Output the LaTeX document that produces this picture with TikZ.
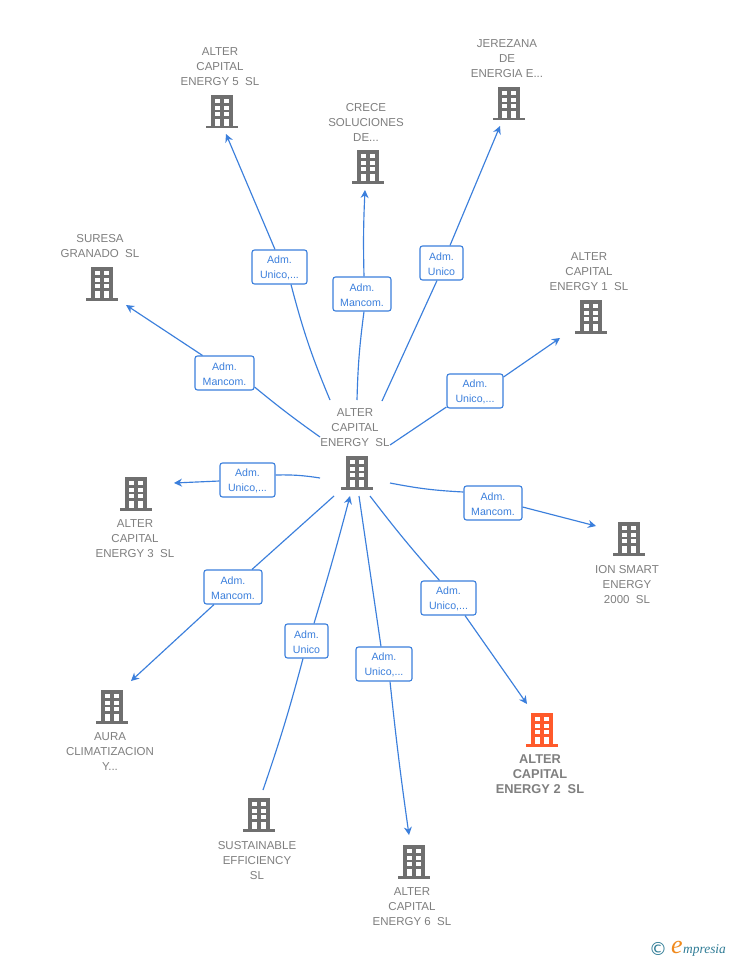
\documentclass[tikz,border=0pt]{standalone}
\usepackage{fontspec}
\setmainfont{Liberation Sans}
\newfontfamily\symfont{DejaVu Sans}
\newfontfamily\logofont{Liberation Serif}
\usetikzlibrary{arrows.meta}
\definecolor{linkblue}{HTML}{3B7FDC}
\definecolor{txtgrey}{HTML}{7F7F7F}
\definecolor{bldgrey}{HTML}{6F6F6F}
\definecolor{bldorange}{HTML}{FF5A2B}
\definecolor{logoteal}{HTML}{2F7C96}
\definecolor{logoorange}{HTML}{F08A1D}
\tikzset{
  x=1pt,y=-1pt,
  company/.style={text=txtgrey,align=center,inner sep=0pt,font=\fontsize{11.5}{15}\selectfont},
  maincompany/.style={text=txtgrey,align=center,inner sep=0pt,font=\fontsize{12.8}{15}\selectfont\bfseries},
  linkbox/.style={draw=linkblue,line width=1.1pt,rounded corners=2.5pt,fill=white,text=linkblue,align=center,inner sep=0pt,font=\fontsize{10.6}{15}\selectfont,minimum height=34pt},
  link/.style={draw=linkblue,line width=1.15pt},
  arrowlink/.style={link,-{Stealth[length=8pt,width=8pt]}},
}
\newcommand{\lb}[2]{\rule{0pt}{10pt}#1\\#2}
\newcommand{\bld}[4]{%
  \begin{scope}[shift={(#2,#3)}]
    \coordinate (#1) at (0,16);
    \fill[#4] (-11,0) rectangle (11,31);
    \fill[#4] (-16,31) rectangle (16,33.5);
    \foreach \cx in {-7,2.3}{
      \foreach \ry/\rh in {4/4.2,10.7/4.3,17/4.3,24/7.3}{
        \fill[white] (\cx,\ry) rectangle ++(5,\rh);
      }
    }
  \end{scope}}
\begin{document}
\begin{tikzpicture}
\path[use as bounding box,fill=white] (0,0) rectangle (728,960);

% buildings
\bld{bcentre}{357}{456}{bldgrey}
\bld{bfive}{222}{95}{bldgrey}
\bld{bjer}{509}{87}{bldgrey}
\bld{bcre}{368}{150}{bldgrey}
\bld{bsur}{102}{267}{bldgrey}
\bld{bone}{591}{300}{bldgrey}
\bld{bthree}{136}{477}{bldgrey}
\bld{bion}{629}{522}{bldgrey}
\bld{baura}{112}{690}{bldgrey}
\bld{btwo}{542}{713}{bldorange}
\bld{bsus}{259}{798}{bldgrey}
\bld{bsix}{414}{845}{bldgrey}

% company names
\node[company] (ncentre) at (355,428) {ALTER\\CAPITAL\\ENERGY\ \ SL};
\node[company] (nfive) at (220,67) {ALTER\\CAPITAL\\ENERGY 5\ \ SL};
\node[company] (njer) at (507,59) {JEREZANA\\DE\\ENERGIA E...};
\node[company] (ncre) at (366,122) {CRECE\\SOLUCIONES\\DE...};
\node[company] (nsur) at (100,246.5) {SURESA\\GRANADO\ \ SL};
\node[company] (none) at (589,272) {ALTER\\CAPITAL\\ENERGY 1\ \ SL};
\node[company] (nthree) at (135,539) {ALTER\\CAPITAL\\ENERGY 3\ \ SL};
\node[company] (nion) at (627,585) {ION SMART\\ENERGY\\2000\ \ SL};
\node[company] (naura) at (110,752) {AURA\\CLIMATIZACION\\Y...};
\node[maincompany] (ntwo) at (540,774) {ALTER\\CAPITAL\\ENERGY 2\ \ SL};
\node[company] (nsus) at (257,861) {SUSTAINABLE\\EFFICIENCY\\SL};
\node[company] (nsix) at (412,907) {ALTER\\CAPITAL\\ENERGY 6\ \ SL};

% link labels
\node[linkbox,minimum width=55pt] (lfive) at (279.5,267) {\lb{Adm.}{Unico,...}};
\node[linkbox,minimum width=58pt] (lcre) at (362,294) {\lb{Adm.}{Mancom.}};
\node[linkbox,minimum width=43pt] (ljer) at (441.5,263) {\lb{Adm.}{Unico}};
\node[linkbox,minimum width=56pt] (lone) at (475,391) {\lb{Adm.}{Unico,...}};
\node[linkbox,minimum width=58pt] (lion) at (493,503) {\lb{Adm.}{Mancom.}};
\node[linkbox,minimum width=55pt] (ltwo) at (448.5,598) {\lb{Adm.}{Unico,...}};
\node[linkbox,minimum width=56pt] (lsix) at (384,664) {\lb{Adm.}{Unico,...}};
\node[linkbox,minimum width=43pt] (lsus) at (306.5,641) {\lb{Adm.}{Unico}};
\node[linkbox,minimum width=58pt] (laura) at (233,587) {\lb{Adm.}{Mancom.}};
\node[linkbox,minimum width=55pt] (lthree) at (247.5,480) {\lb{Adm.}{Unico,...}};
\node[linkbox,minimum width=59pt] (lsur) at (224.5,373) {\lb{Adm.}{Mancom.}};

% free ends
\coordinate (sfive) at (330,400);  \coordinate (efive) at (226,134);
\coordinate (scre) at (357,400);   \coordinate (ecre) at (365,190);
\coordinate (sjer) at (382,401);   \coordinate (ejer) at (500,126);
\coordinate (sone) at (390,445);   \coordinate (eone) at (560,338);
\coordinate (sion) at (390,483);   \coordinate (eion) at (596,526);
\coordinate (stwo) at (370,496);   \coordinate (etwo) at (527,704);
\coordinate (ssix) at (359,496);   \coordinate (esix) at (409,835);
\coordinate (ssus) at (263,790);   \coordinate (esus) at (350,496);
\coordinate (saura) at (334,496);  \coordinate (eaura) at (131,681);
\coordinate (sthree) at (320,478); \coordinate (ethree) at (174,483);
\coordinate (ssur) at (320,437);   \coordinate (esur) at (126,305);

% connectors
\draw[link] (sfive) to[bend left=4] ([xshift=11.5pt]lfive.south);
\draw[arrowlink] ([xshift=-4.5pt]lfive.north) -- (efive);
\draw[link] (scre) to[bend left=3] ([xshift=2pt]lcre.south);
\draw[arrowlink] ([xshift=2pt]lcre.north) to[bend left=2] (ecre);
\draw[link] (sjer) -- ([xshift=-4.5pt]ljer.south);
\draw[arrowlink] ([xshift=8.5pt]ljer.north) -- (ejer);
\draw[link] (sone) -- (lone.west |- 0,407);
\draw[arrowlink] (lone.east |- 0,377) -- (eone);
\draw[link] (sion) to[bend right=4] (lion.west |- 0,492);
\draw[arrowlink] (lion.east |- 0,507) -- (eion);
\draw[link] (stwo) to[bend right=2] ([xshift=-9pt]ltwo.north);
\draw[arrowlink] ([xshift=16.5pt]ltwo.south) -- (etwo);
\draw[link] (ssix) -- ([xshift=-3pt]lsix.north);
\draw[arrowlink] ([xshift=6pt]lsix.south) to[bend right=1] (esix);
\draw[link] (ssus) to[bend right=2] ([xshift=-3.5pt]lsus.south);
\draw[arrowlink] ([xshift=7.5pt]lsus.north) to[bend right=1] (esus);
\draw[link] (saura) -- ([xshift=19pt]laura.north);
\draw[arrowlink] ([xshift=-19pt]laura.south) -- (eaura);
\draw[link] (sthree) to[bend right=5] (lthree.east |- 0,475);
\draw[arrowlink] (lthree.west |- 0,481) -- (ethree);
\draw[link] (ssur) to[bend left=2] (lsur.east |- 0,387);
\draw[arrowlink] ([xshift=-22pt]lsur.north) -- (esur);

% logo
\node[text=logoteal,inner sep=0pt,font=\symfont\fontsize{18}{18}\selectfont] (logoc) at (658,949) {©};
\node[text=logoorange,inner sep=0pt,font=\logofont\itshape\fontsize{26}{26}\selectfont] (logoe) at (677,947) {e};
\node[text=logoteal,inner sep=0pt,anchor=west,font=\logofont\itshape\fontsize{13.4}{14}\selectfont] (logot) at (683,950) {mpresia};
\end{tikzpicture}
\end{document}
